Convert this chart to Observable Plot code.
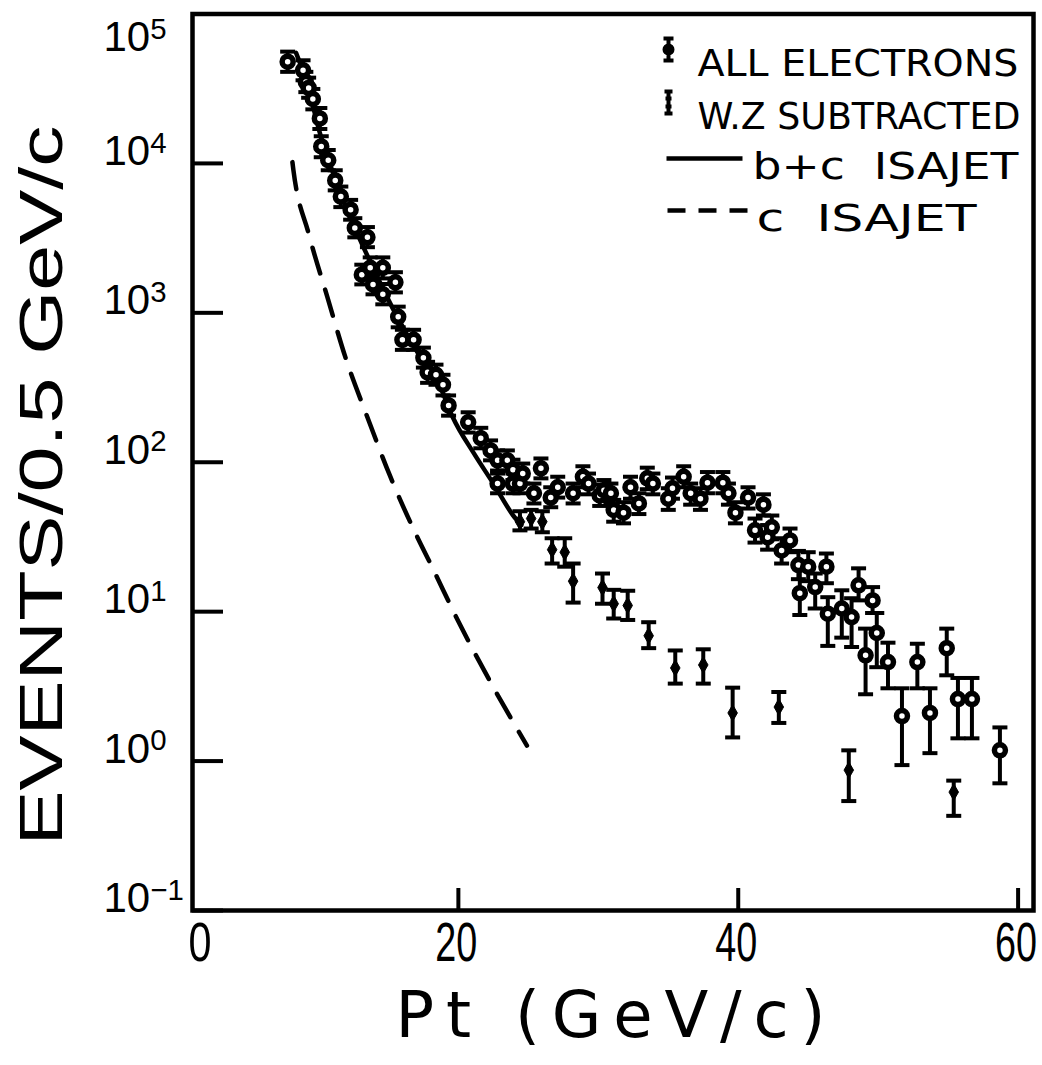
<!DOCTYPE html>
<html><head><meta charset="utf-8">
<script src="https://cdn.jsdelivr.net/npm/d3@7"></script>
<script src="https://cdn.jsdelivr.net/npm/@observablehq/plot@0.6"></script>
<style>body{margin:0;background:#fff} svg{display:block}</style>
</head><body><div id="chart"></div>
<script>
// ---- data ----
const xTickValues = [20, 40, 60];
const xTickLabels = ["20", "40", "60"];
const xOriginLabel = "0";
const yTickValues = [0.1, 1, 10, 100, 1000, 10000];
const yTickExponents = ["\u22121", "0", "1", "2", "3", "4"];
const yTopTick = [100000];
const yTopExponent = "5";
const legendLabels = ["ALL ELECTRONS", "W.Z SUBTRACTED", "b+c  ISAJET", "c  ISAJET"];
const xTitle = "Pt (GeV/c)";
const yTitle = "EVENTS/0.5 GeV/c";

// [Pt, events]
const bcIsajet = [[8.4,55000],[9.2,34000],[10.1,16000],[11.4,7000],[12.5,3900],[13.6,2300],[15.6,950],[17.1,540],[18.7,320],[19.6,200],[21.1,115],[22.5,72],[24.0,43],[24.5,38]];
const cIsajet = [[8.14,10200],[8.21,9040],[9.29,3420],[10.64,1274],[11.93,503],[13.5,200],[15.14,80],[17.07,31.5],[18.0,21],[20.14,8.1],[22.6,3.0],[24.9,1.27]];

// [Pt, events, low, high]
const allElectrons = [
[7.8,48000,41000,56000],[8.9,42000,36000,49000],[9.1,35000,30000,41000],[9.3,32000,27500,37500],
[9.6,27000,23000,31500],[10.1,20000,17000,23500],[10.2,13000,11000,15200],[10.7,10500,9000,12300],
[11.2,7700,6600,9000],[11.6,6000,5100,7000],[12.3,4900,4200,5700],[12.6,3700,3200,4300],
[13.1,1800,1550,2100],[13.5,3200,2750,3750],[13.7,2000,1700,2350],[13.9,1550,1330,1810],
[14.6,2000,1700,2350],[14.6,1330,1140,1560],[15.5,1600,1370,1870],[15.7,940,800,1100],
[16.0,660,565,770],[16.8,660,565,770],[17.5,500,430,585],[17.8,400,340,470],
[18.4,385,330,450],[18.9,330,280,385],[19.3,240,205,280],[20.7,185,158,216],
[21.6,145,124,170],[22.3,120,103,140],[22.8,103,88,120],[22.8,72,62,84],
[23.5,103,88,120],[23.9,89,76,104],[23.9,72,62,84],[24.4,72,62,84],
[24.6,84,72,98],[25.4,62,53,72],[25.9,91,78,106],[26.6,58,50,68],
[27.1,68,58,80],[28.2,62,53,72],[28.9,80,68,94],[29.3,72,61,84],
[30.1,60,51,71],[30.4,65,55,76],[30.9,62,52,72],[31.1,48,40,56],
[31.8,46,39,54],[32.3,68,57,80],[32.9,53,45,62],[33.5,78,66,92],
[33.9,72,61,84],[35.0,57,48,67],[35.3,67,57,79],[36.1,80,68,94],
[36.6,62,52,72],[37.3,57,48,67],[37.8,73,62,86],[38.9,73,62,86],
[39.3,62,52,72],[39.8,46,39,54],[40.7,58,49,68],[41.2,35,29,42],
[41.8,52,44,61],[42.1,31.5,26,38],[42.4,36.7,30.5,44],[43.1,25.7,21,31],
[43.7,30,25,36],[44.3,20.5,16.5,25.5],[44.4,13.3,9.5,21],[45.0,20,16,25],
[45.5,14.6,10.5,18],[46.3,20,15.5,24.5],[46.4,9.7,5.9,12.5],[47.4,10.5,6.7,13.9],
[48.1,9.2,5.8,12.3],[48.6,15,11.9,19.5],[49.1,5.1,2.8,7.7],[49.6,11.9,9.8,14.6],
[49.9,7.2,4.25,9.8],[50.7,4.6,3.07,6.2],[51.7,2.0,0.94,3.07],[52.8,4.6,3.07,6.1],
[53.7,2.1,1.13,3.07],[54.9,5.7,3.75,7.7],[55.7,2.6,1.42,3.6],[56.7,2.6,1.42,3.6],
[58.7,1.18,0.71,1.68]
];
const wzSubtracted = [
[24.4,40,35,47],[25.2,42,36,48],[26.0,40,34,47],[26.7,26,21,31],
[27.6,25,20,31],[28.2,16,11.5,21],[30.3,14.5,11.3,18],[31.1,11.3,9.0,14],
[32.1,11.0,8.8,13.8],[33.6,6.9,5.7,8.5],[35.5,4.2,3.3,5.5],[37.5,4.4,3.3,5.6],
[39.6,2.1,1.44,3.1],[42.9,2.3,1.8,2.9],[47.9,0.87,0.54,1.18],[55.4,0.62,0.43,0.74]
];

(function () {
const capSymbol = {draw(ctx) { ctx.moveTo(-7.5, 0); ctx.lineTo(7.5, 0); }};
const legendAllSymbol = {draw(ctx) {
  ctx.moveTo(0, -11); ctx.lineTo(0, 11);
  ctx.moveTo(-5, -11); ctx.lineTo(5, -11);
  ctx.moveTo(-5, 11); ctx.lineTo(5, 11);
  ctx.moveTo(4, 0); ctx.arc(0, 0, 4, 0, 2 * Math.PI);
}};
const legendWzSymbol = {draw(ctx) {
  ctx.moveTo(0, -11); ctx.lineTo(0, 11);
  ctx.moveTo(-4, -11); ctx.lineTo(4, -11);
  ctx.moveTo(-4, 11); ctx.lineTo(4, 11);
  ctx.moveTo(-3, -4); ctx.lineTo(3, -4);
  ctx.moveTo(-3, 4); ctx.lineTo(3, 4);
}};
const legendSolid = {draw(ctx) { ctx.moveTo(-38, 0); ctx.lineTo(38, 0); }};
const legendDashed = {draw(ctx) {
  ctx.moveTo(-40, 0); ctx.lineTo(-22, 0);
  ctx.moveTo(-9, 0); ctx.lineTo(9, 0);
  ctx.moveTo(22, 0); ctx.lineTo(40, 0);
}};

const fLeft = 192, fTop = 13.5, fRight = 1033, fBottom = 910;
const fw = fRight - fLeft, fh = fBottom - fTop;
const sans = "'Liberation Sans', Arial, sans-serif";
const legendFont = "'DejaVu Sans', 'Liberation Sans', sans-serif";
const rows = [49, 102, 152, 204];
const symX = 668;

const X = d => d[0], Y = d => d[1];
const tickLabelOpts = {frameAnchor: "left", dx: 103 - fLeft, textAnchor: "start", fontSize: 42, fontFamily: sans};

const chart = Plot.plot({
  width: 1042, height: 1065,
  marginLeft: fLeft, marginRight: 1042 - fRight, marginTop: fTop, marginBottom: 1065 - fBottom,
  style: {background: "white", color: "black"},
  x: {type: "linear", domain: [1.0, 61.1], axis: null},
  y: {type: "log", domain: [0.1, 1e5], axis: null},
  marks: [
    Plot.frame({stroke: "black", strokeWidth: 4.5}),
    Plot.tickY(yTickValues, {y: d => d, insetRight: fw - 31, stroke: "black", strokeWidth: 4}),
    Plot.tickX(xTickValues, {x: d => d, insetTop: fh - 22, stroke: "black", strokeWidth: 4}),
    Plot.text(yTickValues, {...tickLabelOpts, y: d => d, text: (d, i) => "10|" + yTickExponents[i], dy: -12}),
    Plot.text(yTopTick, {...tickLabelOpts, y: d => d, text: () => "10|" + yTopExponent, dy: 24}),
    Plot.text(xTickValues, {x: d => d, text: (d, i) => xTickLabels[i], frameAnchor: "bottom", dx: -23, dy: 50, textAnchor: "start", fontSize: 56, fontFamily: sans}),
    Plot.text([xOriginLabel], {frameAnchor: "bottom-left", dx: -4, dy: 50, textAnchor: "start", fontSize: 56, fontFamily: sans}),
    Plot.text([yTitle], {frameAnchor: "left", dx: 42 - fLeft, dy: 845 - (fTop + fBottom) / 2, rotate: -90, textAnchor: "start", fontSize: 62, fontFamily: sans}),
    Plot.text([xTitle], {frameAnchor: "bottom-left", dx: 395 - fLeft, dy: 126, textAnchor: "start", fontSize: 64, fontFamily: legendFont}),

    Plot.line(cIsajet, {x: X, y: Y, curve: "monotone-x", stroke: "black", strokeWidth: 4.5, strokeDasharray: "27,17"}),
    Plot.line(bcIsajet, {x: X, y: Y, curve: "monotone-x", stroke: "black", strokeWidth: 4.5}),

    Plot.ruleX(wzSubtracted, {x: X, y1: d => d[2], y2: d => d[3], stroke: "black", strokeWidth: 4}),
    Plot.dot(wzSubtracted, {x: X, y: d => d[2], symbol: capSymbol, stroke: "black", strokeWidth: 4}),
    Plot.dot(wzSubtracted, {x: X, y: d => d[3], symbol: capSymbol, stroke: "black", strokeWidth: 4}),
    Plot.dot(wzSubtracted, {x: X, y: Y, r: 5, symbol: "diamond", fill: "black", stroke: "black", strokeWidth: 1}),

    Plot.ruleX(allElectrons, {x: X, y1: d => d[2], y2: d => d[3], stroke: "black", strokeWidth: 4}),
    Plot.dot(allElectrons, {x: X, y: d => d[2], symbol: capSymbol, stroke: "black", strokeWidth: 4}),
    Plot.dot(allElectrons, {x: X, y: d => d[3], symbol: capSymbol, stroke: "black", strokeWidth: 4}),
    Plot.dot(allElectrons, {x: X, y: Y, r: 5.5, fill: "white", stroke: "black", strokeWidth: 5.5}),

    Plot.dot([legendLabels[0]], {frameAnchor: "top-left", dx: symX - fLeft, dy: rows[0] - fTop, symbol: legendAllSymbol, stroke: "black", strokeWidth: 4, fill: "black"}),
    Plot.dot([legendLabels[1]], {frameAnchor: "top-left", dx: symX - fLeft, dy: rows[1] - fTop, symbol: legendWzSymbol, stroke: "black", strokeWidth: 4, fill: "none"}),
    Plot.dot([legendLabels[2]], {frameAnchor: "top-left", dx: 704 - fLeft, dy: rows[2] + 6 - fTop, symbol: legendSolid, stroke: "black", strokeWidth: 4.5}),
    Plot.dot([legendLabels[3]], {frameAnchor: "top-left", dx: 707 - fLeft, dy: rows[3] + 6 - fTop, symbol: legendDashed, stroke: "black", strokeWidth: 4.5}),
    Plot.text([legendLabels[0]], {frameAnchor: "top-left", dx: 697 - fLeft, dy: rows[0] - fTop, textAnchor: "start", fontSize: 38, fontFamily: legendFont}),
    Plot.text([legendLabels[1]], {frameAnchor: "top-left", dx: 697 - fLeft, dy: rows[1] - fTop, textAnchor: "start", fontSize: 38, fontFamily: legendFont}),
    Plot.text([legendLabels[2]], {frameAnchor: "top-left", dx: 752 - fLeft, dy: rows[2] - fTop, textAnchor: "start", fontSize: 38, fontFamily: legendFont}),
    Plot.text([legendLabels[3]], {frameAnchor: "top-left", dx: 756 - fLeft, dy: rows[3] - fTop, textAnchor: "start", fontSize: 38, fontFamily: legendFont})
  ]
});

document.getElementById("chart").appendChild(chart);

// post-process texts: superscript exponents, and fitted lengths
const lengths = new Map([
  [yTitle, [720, "spacingAndGlyphs"]],
  [xTitle, [430, "spacing"]],
  [legendLabels[0], [321, "spacingAndGlyphs"]],
  [legendLabels[1], [323, "spacingAndGlyphs"]],
  [legendLabels[2], [266, "spacingAndGlyphs"]],
  [legendLabels[3], [220, "spacingAndGlyphs"]],
  [xTickLabels[0], [42, "spacingAndGlyphs"]],
  [xTickLabels[1], [42, "spacingAndGlyphs"]],
  [xTickLabels[2], [42, "spacingAndGlyphs"]],
  [xOriginLabel, [23, "spacingAndGlyphs"]]
]);
d3.select(chart).selectAll("text").each(function() {
  const s = this.textContent;
  const t = d3.select(this);
  if (s.startsWith("10|")) {
    const parts = s.split("|");
    t.text(parts[0]).style("white-space", "pre");
    t.append("tspan").attr("dy", "-0.42em").attr("font-size", "0.7em").text(parts[1]);
  } else if (lengths.has(s)) {
    const [len, adj] = lengths.get(s);
    t.attr("textLength", len).attr("lengthAdjust", adj).style("white-space", "pre");
  }
});
})();
</script></body></html>
